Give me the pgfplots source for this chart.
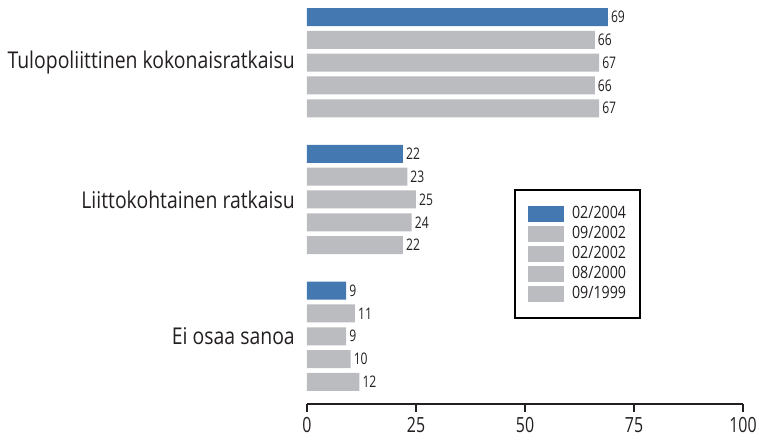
\documentclass[border=0pt]{standalone}
\usepackage{fontspec}
\setmainfont{Open Sans}[FakeStretch=0.84]
\newfontfamily\numfont{Open Sans}[FakeStretch=0.76]
\usepackage{pgfplots}
\pgfplotsset{compat=1.18}
\definecolor{barblue}{RGB}{67,120,177}
\definecolor{bargray}{RGB}{187,188,192}
\definecolor{txt}{RGB}{35,31,32}
\begin{document}
\begin{tikzpicture}
\begin{axis}[
  at={(0,0)}, anchor=south west,
  scale only axis, width=436bp, height=404bp,
  xmin=0, xmax=100, ymin=-16.97, ymax=0.75,
  xbar, bar width=0.79, bar shift=0pt,
  axis x line*=bottom, axis y line*=left,
  y axis line style={draw=none},
  x axis line style={line width=2bp, color=txt},
  xtick={0,25,50,75,100},
  tick align=outside, major tick length=8bp,
  x tick style={line width=2bp, color=txt},
  ytick={-2,-8,-14},
  yticklabels={Tulopoliittinen kokonaisratkaisu, Liittokohtainen ratkaisu, Ei osaa sanoa},
  y tick style={draw=none},
  /pgf/number format/assume math mode=true,
  xticklabel style={font=\numfont\fontsize{21}{21}\selectfont, text=txt, inner sep=0pt, text depth=0pt, yshift=-5bp},
  yticklabel style={font=\fontsize{23.2}{26}\selectfont, text=txt, inner sep=0pt, xshift=-4bp},
  nodes near coords,
  every node near coord/.append style={font=\numfont\fontsize{16}{16}\selectfont, text=txt, anchor=west, inner sep=0pt, xshift=3bp},
  legend cell align=left,
  legend image code/.code={\path[#1, draw=none] (0bp,-8bp) rectangle (36bp,8bp);},
  legend style={at={(0.4748,0.532)}, anchor=north west, draw=black, line width=2bp,
    inner xsep=13bp, inner ysep=15bp, row sep=2.5bp,
    font=\fontsize{17}{17}\selectfont, text=txt,
    nodes={inner sep=1bp, text height=12bp, text depth=3.5bp},
    /tikz/every odd column/.append style={column sep=7bp}},
]
\addplot[fill=barblue, draw=none] coordinates {(69,0) (22,-6) (9,-12)};
\addplot[fill=bargray, draw=none] coordinates {(66,-1) (23,-7) (11,-13)};
\addplot[fill=bargray, draw=none] coordinates {(67,-2) (25,-8) (9,-14)};
\addplot[fill=bargray, draw=none] coordinates {(66,-3) (24,-9) (10,-15)};
\addplot[fill=bargray, draw=none] coordinates {(67,-4) (22,-10) (12,-16)};
\legend{02/2004, 09/2002, 02/2002, 08/2000, 09/1999}
\end{axis}
\pgfresetboundingbox
\path (-307bp,-36bp) rectangle (452bp,404bp);
\end{tikzpicture}
\end{document}
